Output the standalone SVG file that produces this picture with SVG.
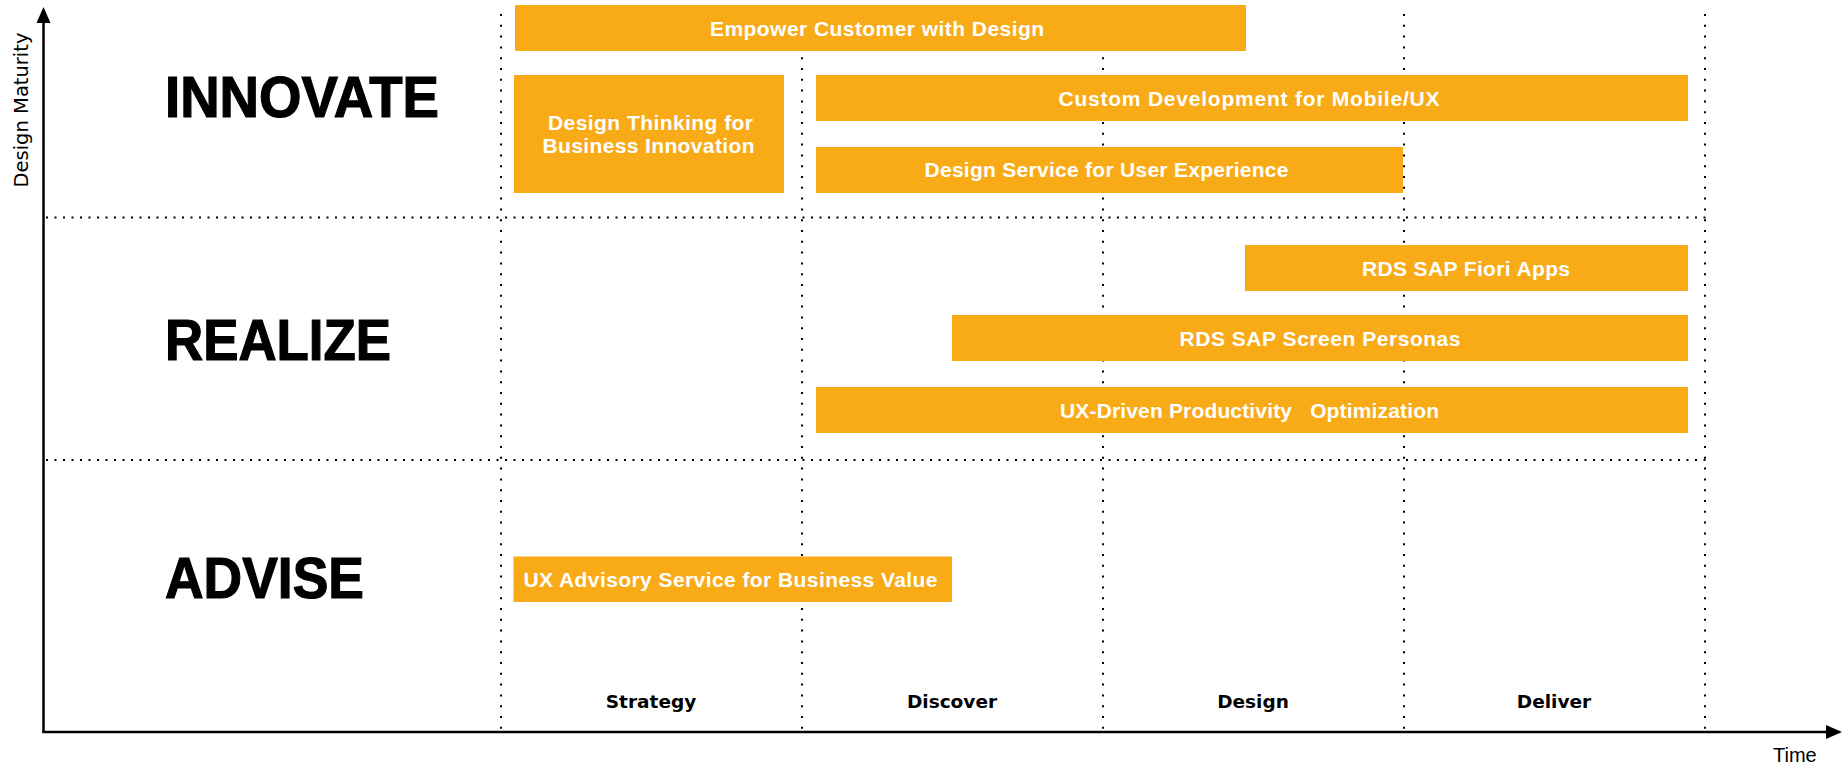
<svg xmlns="http://www.w3.org/2000/svg" width="1843" height="767" viewBox="0 0 1843 767">
<style>
.bg{fill:#ffffff}
.grid line{stroke:#000;stroke-width:2}
.gv{stroke-dasharray:2 8.8}
.gh{stroke-dasharray:2 6.5}
.axis{stroke:#000;stroke-width:2.5;fill:none}
.box{fill:#F9AB17}
.bt{font-family:"Liberation Sans",Arial,sans-serif;font-weight:bold;font-size:21px;fill:#fff;text-anchor:middle}
.big{font-family:"Liberation Sans",Arial,sans-serif;font-weight:bold;font-size:57px;fill:#000;stroke:#000;stroke-width:1.2}
.col{font-family:"DejaVu Sans",sans-serif;font-weight:bold;font-size:18.5px;fill:#000;text-anchor:middle}
.ax{font-family:"DejaVu Sans",sans-serif;font-size:19.5px;fill:#000}
.time{font-family:"Liberation Sans",Arial,sans-serif;font-size:20px;fill:#000}
</style>
<rect class="bg" x="0" y="0" width="1843" height="767"/>
<g id="grid" class="grid">
  <line class="gv" x1="501" y1="14" x2="501" y2="731"/>
  <line class="gv" x1="802" y1="14" x2="802" y2="731"/>
  <line class="gv" x1="1103" y1="14" x2="1103" y2="731"/>
  <line class="gv" x1="1404" y1="14" x2="1404" y2="731"/>
  <line class="gv" x1="1705" y1="14" x2="1705" y2="731"/>
  <line class="gh" x1="46" y1="217.5" x2="1706" y2="217.5"/>
  <line class="gh" x1="46" y1="460" x2="1706" y2="460"/>
</g>
<g id="connectors">
  <line class="axis" x1="43.5" y1="733" x2="43.5" y2="20"/>
  <polygon points="43.5,7 36.5,23 50.5,23" fill="#000"/>
  <line class="axis" x1="42.5" y1="732" x2="1828" y2="732"/>
  <polygon points="1842,732 1826,725 1826,739" fill="#000"/>
</g>
<g id="axis-labels">
  <text class="ax" transform="translate(27.5,110) rotate(-90)" text-anchor="middle">Design Maturity</text>
  <text class="time" x="1773" y="761.5">Time</text>
</g>
<g id="level-labels">
  <text id="innovate" class="big" x="165" y="117" textLength="274" lengthAdjust="spacingAndGlyphs">INNOVATE</text>
  <text id="realize" class="big" x="165" y="359.5" textLength="226" lengthAdjust="spacingAndGlyphs">REALIZE</text>
  <text id="advise" class="big" x="165" y="598" textLength="199" lengthAdjust="spacingAndGlyphs">ADVISE</text>
</g>
<g id="phase-labels">
  <text class="col" x="651" y="707.5">Strategy</text>
  <text class="col" x="952" y="707.5">Discover</text>
  <text class="col" x="1253" y="707.5">Design</text>
  <text class="col" x="1554" y="707.5">Deliver</text>
</g>
<g id="empower">
  <rect class="box" x="515" y="5" width="731" height="46"/>
  <text class="bt" x="877" y="35.5" textLength="334">Empower Customer with Design</text>
</g>
<g id="design-thinking">
  <rect class="box" x="514" y="75" width="270" height="118"/>
  <text class="bt" x="650.5" y="129.5" textLength="205">Design Thinking for</text>
  <text class="bt" x="648.5" y="153" textLength="212">Business Innovation</text>
</g>
<g id="custom-dev">
  <rect class="box" x="816" y="75" width="872" height="46"/>
  <text class="bt" x="1249" y="106" textLength="381">Custom Development for Mobile/UX</text>
</g>
<g id="design-service">
  <rect class="box" x="816" y="147" width="587" height="46"/>
  <text class="bt" x="1106.5" y="177" textLength="364">Design Service for User Experience</text>
</g>
<g id="fiori">
  <rect class="box" x="1245" y="245" width="443" height="46"/>
  <text class="bt" x="1466" y="275.5" textLength="208">RDS SAP Fiori Apps</text>
</g>
<g id="personas">
  <rect class="box" x="952" y="315" width="736" height="46"/>
  <text class="bt" x="1320" y="345.5" textLength="281">RDS SAP Screen Personas</text>
</g>
<g id="ux-driven">
  <rect class="box" x="816" y="387" width="872" height="46"/>
  <text class="bt" x="1249.5" y="417.5" textLength="379" xml:space="preserve" style="white-space:pre">UX-Driven Productivity   Optimization</text>
</g>
<g id="ux-advisory">
  <rect class="box" x="513.5" y="556.5" width="438.5" height="45.5"/>
  <text class="bt" x="730.5" y="587" textLength="414">UX Advisory Service for Business Value</text>
</g>
</svg>
